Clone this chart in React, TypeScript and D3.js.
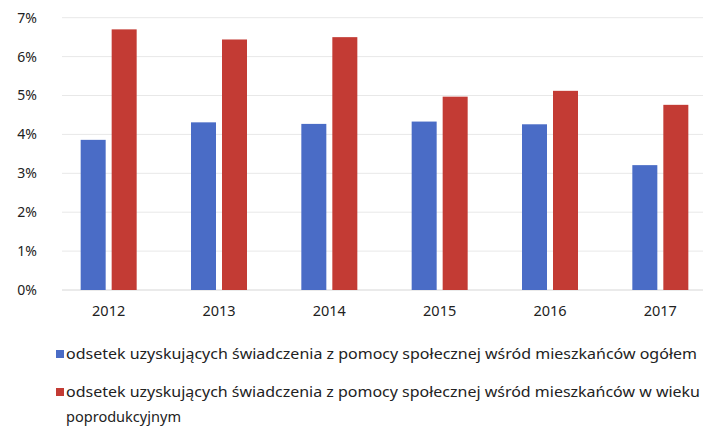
import React from "react";
import * as d3 from "d3";

const years = ["2012", "2013", "2014", "2015", "2016", "2017"];
const ogolem = [3.86, 4.31, 4.27, 4.33, 4.26, 3.21];
const poprodukcyjny = [6.7, 6.44, 6.5, 4.97, 5.12, 4.76];
const yTicks = [0, 1, 2, 3, 4, 5, 6, 7];
const legendLabels = [
  "odsetek uzyskujących świadczenia z pomocy społecznej wśród mieszkańców ogółem",
  "odsetek uzyskujących świadczenia z pomocy społecznej wśród mieszkańców w wieku",
  "poprodukcyjnym",
];

const W = 703;
const H = 426;
const BLUE = "#4a6cc6";
const RED = "#c33b34";
const FONT = "'Noto Sans', 'Open Sans', sans-serif";

export default function App() {
  const x = d3.scaleBand<string>().domain(years).range([53.5, 715.5]).paddingInner(0).paddingOuter(0);
  const y = d3.scaleLinear().domain([0, 7]).range([290, 17.7]);
  const barW = 25;
  const gap = 6;

  return (
    <svg width={W} height={H} style={{ position: "absolute", left: 0, top: 0, background: "#fff" }}>
      {yTicks.map((t) => (
        <g key={t}>
          {t > 0 && (
            <line x1={62} x2={703} y1={y(t)} y2={y(t)} stroke="#e8e8e8" strokeWidth={1} />
          )}
          <text
            x={37}
            y={y(t)}
            dy="0.35em"
            textAnchor="end"
            fontFamily={FONT}
            fontSize={14}
            fill="#222"
          >
            {t}%
          </text>
        </g>
      ))}
      <line x1={62} x2={703} y1={y(0)} y2={y(0)} stroke="#d6d6d6" strokeWidth={1} />
      {years.map((yr, i) => {
        const c = (x(yr) as number) + x.bandwidth() / 2;
        return (
          <g key={yr}>
            <rect x={c - gap / 2 - barW} y={y(ogolem[i])} width={barW} height={y(0) - y(ogolem[i])} fill={BLUE} />
            <rect x={c + gap / 2} y={y(poprodukcyjny[i])} width={barW} height={y(0) - y(poprodukcyjny[i])} fill={RED} />
            <text x={c} y={311} dy="0.35em" textAnchor="middle" fontFamily={FONT} fontSize={14.5} fill="#222">
              {yr}
            </text>
          </g>
        );
      })}
      <rect x={56} y={350} width={8} height={8} fill={BLUE} />
      <text x={66} y={354} dy="0.35em" fontFamily={FONT} fontSize={14} fill="#222" textLength={631} lengthAdjust="spacingAndGlyphs">
        {legendLabels[0]}
      </text>
      <rect x={56} y={388} width={8} height={8} fill={RED} />
      <text x={66} y={392} dy="0.35em" fontFamily={FONT} fontSize={14} fill="#222" textLength={634} lengthAdjust="spacingAndGlyphs">
        {legendLabels[1]}
      </text>
      <text x={66} y={417} dy="0.35em" fontFamily={FONT} fontSize={14} fill="#222" textLength={115} lengthAdjust="spacingAndGlyphs">
        {legendLabels[2]}
      </text>
    </svg>
  );
}
